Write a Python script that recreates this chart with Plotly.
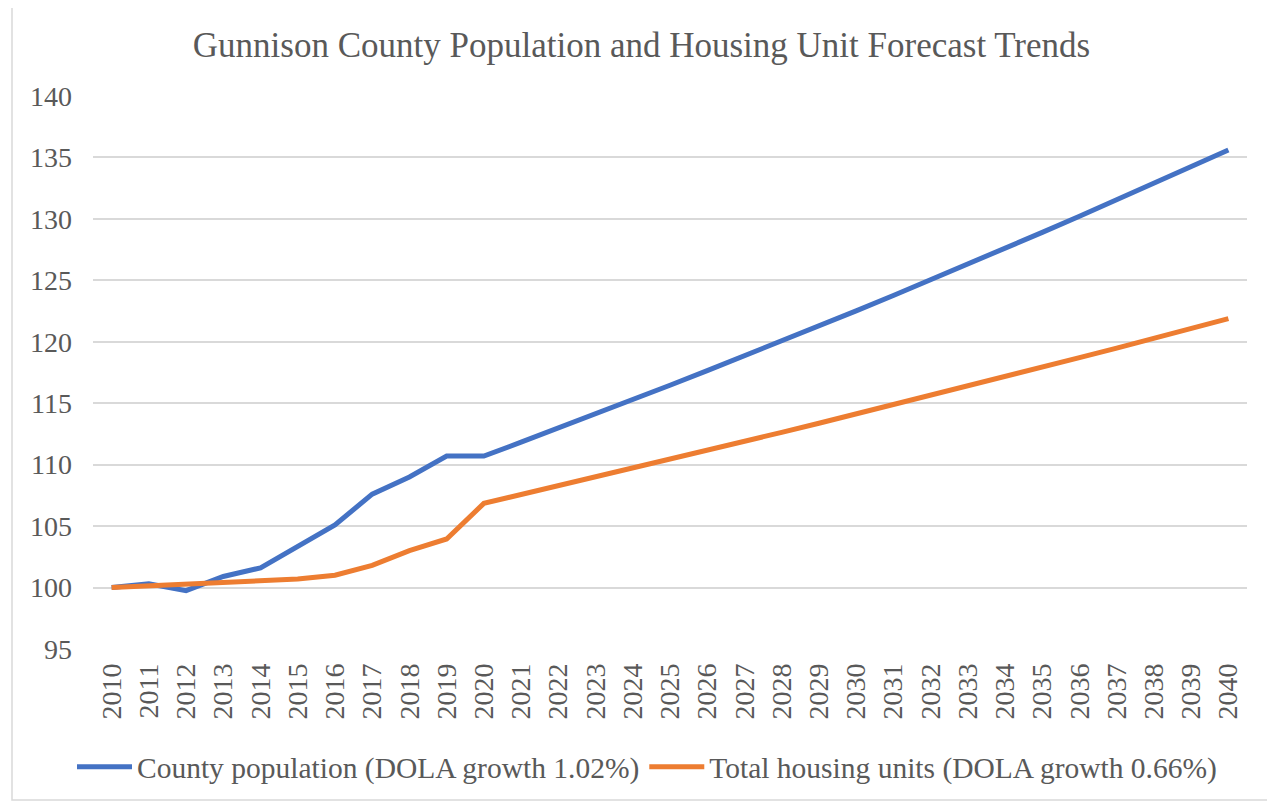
import plotly.graph_objects as go

years = [str(y) for y in range(2010, 2041)]

county_population = [
    100.0, 100.3, 99.75, 100.9, 101.6, 103.4, 105.1, 107.6, 109.0, 110.7, 110.7,
    111.83, 112.97, 114.12, 115.29, 116.46, 117.65, 118.85, 120.06, 121.29, 122.52,
    123.77, 125.03, 126.31, 127.60, 128.90, 130.21, 131.54, 132.88, 134.24, 135.61,
]

housing_units = [
    100.0, 100.15, 100.25, 100.4, 100.55, 100.7, 101.0, 101.8, 103.0, 103.95, 106.85,
    107.56, 108.27, 108.98, 109.70, 110.43, 111.16, 111.89, 112.63, 113.37, 114.12,
    114.87, 115.63, 116.39, 117.16, 117.93, 118.71, 119.49, 120.28, 121.08, 121.88,
]

series_names = [
    "County population (DOLA growth 1.02%)",
    "Total housing units (DOLA growth 0.66%)",
]

title_text = "Gunnison County Population and Housing Unit Forecast Trends"
y_ticks = [95, 100, 105, 110, 115, 120, 125, 130, 135, 140]

FONT = "Liberation Serif, Times New Roman, serif"
GREY = "#595959"

fig = go.Figure()
fig.add_trace(go.Scatter(x=years, y=county_population, mode="lines",
                         name=series_names[0],
                         line=dict(color="#4472C4", width=5)))
fig.add_trace(go.Scatter(x=years, y=housing_units, mode="lines",
                         name=series_names[1],
                         line=dict(color="#ED7D31", width=5)))

# page has an 8px body margin, so the figure is drawn 8px smaller
OFF = 8
W, H = 1275 - OFF, 805 - OFF
L, R, T, B = 93 - OFF, 28, 96 - OFF, 156
pw = W - L - R
ph = H - T - B

fig.update_layout(
    width=W, height=H,
    margin=dict(l=L, r=R, t=T, b=B),
    paper_bgcolor="white", plot_bgcolor="white",
    font=dict(family=FONT, color=GREY, size=28),
    title=dict(text=title_text, x=0.5, xanchor="center", y=1 - (45 - OFF) / H, yanchor="middle",
               font=dict(family=FONT, size=35, color=GREY)),
    xaxis=dict(type="category", categoryorder="array", categoryarray=years,
               range=[-0.5, len(years) - 0.5],
               tickangle=-90, showgrid=False, zeroline=False, showline=False,
               ticks="", ticklabelstandoff=8,
               tickfont=dict(family=FONT, size=28, color=GREY)),
    yaxis=dict(range=[95, 140], tickvals=y_ticks, showgrid=True, gridcolor="#d9d9d9",
               gridwidth=1.5, zeroline=False, showline=False, ticks="",
               ticklabelstandoff=20,
               tickfont=dict(family=FONT, size=28, color=GREY)),
    legend=dict(orientation="h", x=0.5 - 23 / pw, xanchor="center",
                y=-((767 - OFF) - (H - B)) / ph,
                yanchor="middle", font=dict(family=FONT, size=29.5, color=GREY),
                itemwidth=55, tracegroupgap=0, bgcolor="rgba(0,0,0,0)"),
    showlegend=True,
)

# chart-area border (Excel style)
fig.add_shape(type="rect", xref="paper", yref="paper",
              x0=(12 - OFF - L) / pw, x1=(W + 2 - L) / pw,
              y0=-((800 - OFF) - (H - B)) / ph, y1=1 + (T + 2) / ph,
              line=dict(color="#d9d9d9", width=1.5), fillcolor="rgba(0,0,0,0)", layer="below")

fig.write_html("out.html")
